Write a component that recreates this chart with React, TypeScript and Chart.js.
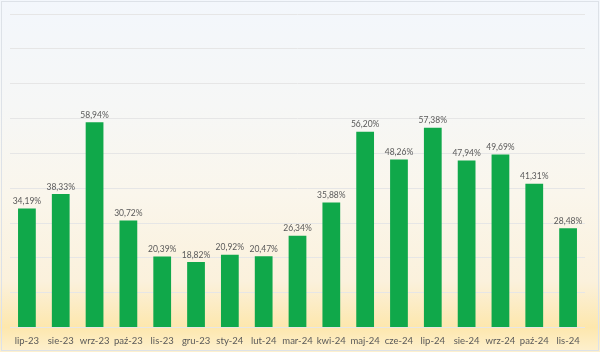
import React, { useEffect, useRef } from "react";
import { Chart, registerables } from "chart.js";

Chart.register(...registerables);

const categories = [
  "lip-23", "sie-23", "wrz-23", "paź-23", "lis-23", "gru-23", "sty-24", "lut-24", "mar-24",
  "kwi-24", "maj-24", "cze-24", "lip-24", "sie-24", "wrz-24", "paź-24", "lis-24",
];
const values = [
  34.19, 38.33, 58.94, 30.72, 20.39, 18.82, 20.92, 20.47, 26.34,
  35.88, 56.2, 48.26, 57.38, 47.94, 49.69, 41.31, 28.48,
];
const yMin = 0;
const yMax = 90;
const yStep = 10;

const FONT = "Lato, 'Open Sans', 'Liberation Sans', sans-serif";

const bgPlugin = {
  id: "bg",
  beforeDraw(chart: any) {
    const { ctx, width, height } = chart;
    ctx.save();
    const g = ctx.createLinearGradient(0, 0, 0, height);
    g.addColorStop(0, "#f3f7fc");
    g.addColorStop(0.3, "#f6f7f6");
    g.addColorStop(0.55, "#faf6ec");
    g.addColorStop(0.8, "#fbf1dc");
    g.addColorStop(0.93, "#fde7ad");
    g.addColorStop(1, "#fdf0cf");
    ctx.fillStyle = g;
    ctx.fillRect(0, 0, width, height);
    ctx.strokeStyle = "#dde2e8";
    ctx.lineWidth = 1;
    ctx.strokeRect(1.5, 1.5, width - 3, height - 3);
    ctx.restore();
  },
};

const labelPlugin = {
  id: "barLabels",
  afterDatasetsDraw(chart: any) {
    const { ctx } = chart;
    const meta = chart.getDatasetMeta(0);
    ctx.save();
    ctx.font = `8.5px ${FONT}`;
    ctx.fillStyle = "#595959";
    ctx.textAlign = "center";
    ctx.textBaseline = "bottom";
    meta.data.forEach((bar: any, i: number) => {
      const txt = values[i].toFixed(2).replace(".", ",") + "%";
      ctx.fillText(txt, bar.x, bar.y - 3);
    });
    ctx.restore();
  },
};

export default function App() {
  const ref = useRef<HTMLCanvasElement>(null);
  useEffect(() => {
    document.body.style.margin = "0";
    const chart = new Chart(ref.current!, {
      type: "bar",
      data: {
        labels: categories,
        datasets: [
          {
            data: values,
            backgroundColor: "#10a84a",
            borderWidth: 0,
            barPercentage: 0.525,
            categoryPercentage: 1,
          },
        ],
      },
      options: {
        responsive: false,
        animation: false,
        layout: { padding: { left: 10, right: 15, top: 14, bottom: -3 } },
        plugins: { legend: { display: false }, tooltip: { enabled: false } },
        scales: {
          x: {
            grid: { display: false, drawTicks: false },
            border: { display: false },
            ticks: {
              color: "#595959",
              font: { family: FONT, size: 9.5 },
              padding: 8,
              maxRotation: 0,
              autoSkip: false,
            },
          },
          y: {
            min: yMin,
            max: yMax,
            ticks: { display: false, stepSize: yStep },
            grid: { color: "#e6e6e6", lineWidth: 1, drawTicks: false },
            border: { display: false },
          },
        },
      },
      plugins: [bgPlugin, labelPlugin],
    });
    return () => chart.destroy();
  }, []);
  return (
    <div style={{ width: 600, height: 352 }}>
      <canvas ref={ref} width={600} height={352} style={{ display: "block" }} />
    </div>
  );
}
